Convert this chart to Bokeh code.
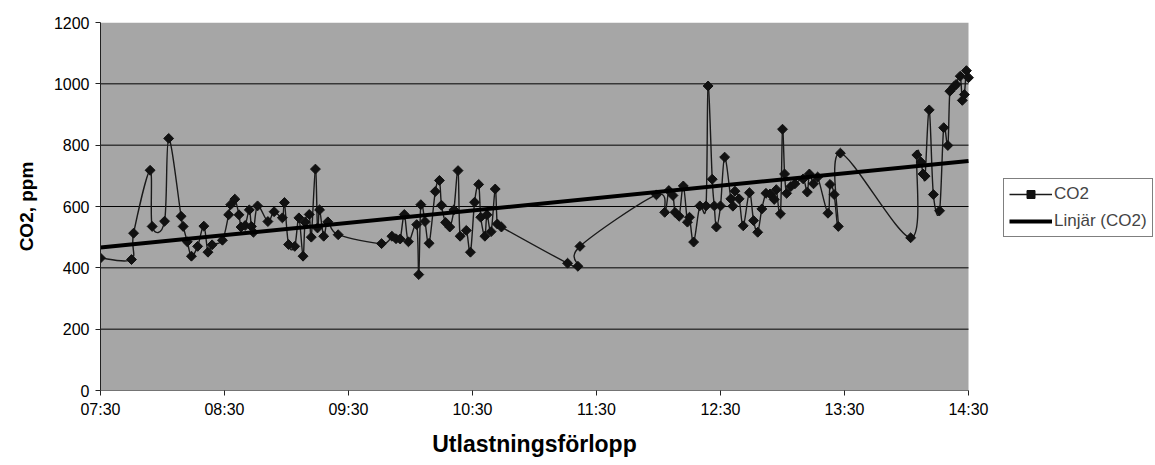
import numpy as np
from bokeh.plotting import figure
from bokeh.models import Range1d, FixedTicker, Legend, LegendItem, BoxAnnotation, Title
from bokeh.embed import file_html
from bokeh.resources import INLINE

# ---- data ----
times = [
    "07:30", "07:45", "07:46", "07:54", "07:55", "08:01", "08:03", "08:09", "08:10", "08:12",
    "08:14", "08:17", "08:20", "08:22", "08:24", "08:29", "08:32", "08:33", "08:35", "08:37",
    "08:38", "08:40", "08:42", "08:43", "08:44", "08:46", "08:51", "08:54", "08:58", "08:59",
    "09:01", "09:04", "09:06", "09:08", "09:09", "09:11", "09:12", "09:14", "09:15", "09:16",
    "09:18", "09:20", "09:25", "09:46", "09:51", "09:53", "09:55", "09:57", "09:59", "10:03",
    "10:04", "10:05", "10:07", "10:09", "10:12", "10:14", "10:15", "10:17", "10:19", "10:21",
    "10:23", "10:24", "10:27", "10:29", "10:31", "10:33", "10:34", "10:36", "10:37", "10:39",
    "10:41", "10:42", "10:44", "11:16", "11:21", "11:22", "11:59", "12:03", "12:05", "12:07",
    "12:08", "12:10", "12:12", "12:14", "12:15", "12:17", "12:20", "12:23", "12:24", "12:26",
    "12:27", "12:28", "12:30", "12:32", "12:35", "12:36", "12:37", "12:39", "12:41", "12:44",
    "12:46", "12:48", "12:50", "12:52", "12:54", "12:56", "12:57", "12:59", "13:00", "13:01",
    "13:02", "13:04", "13:06", "13:10", "13:12", "13:13", "13:15", "13:17", "13:22", "13:23",
    "13:25", "13:27", "13:28", "14:02", "14:05", "14:07", "14:08", "14:09", "14:11", "14:13",
    "14:16", "14:18", "14:20", "14:21", "14:23", "14:24", "14:26", "14:27", "14:28", "14:29",
    "14:30",
]
co2 = [
    432, 427, 513, 718, 535, 552, 822, 568, 535, 485,
    438, 470, 536, 451, 475, 490, 573, 606, 624, 573,
    533, 538, 589, 535, 516, 602, 551, 583, 563, 613,
    476, 470, 563, 438, 549, 574, 500, 722, 530, 589,
    503, 550, 508, 479, 503, 495, 494, 574, 485, 541,
    378, 606, 551, 480, 649, 685, 604, 548, 533, 589,
    717, 503, 522, 451, 614, 672, 565, 503, 573, 518,
    657, 543, 533, 415, 405, 470, 638, 581, 652, 636,
    581, 568, 667, 549, 565, 484, 602, 602, 993, 689,
    602, 533, 602, 761, 625, 601, 650, 625, 537, 645,
    554, 516, 592, 643, 641, 623, 655, 576, 852, 706,
    643, 665, 674, 690, 647, 706, 674, 696, 578, 672,
    639, 535, 774, 498, 768, 745, 706, 699, 915, 639,
    586, 857, 799, 976, 991, 998, 1025, 946, 965, 1043,
    1020,
]
x_tick_labels = ["07:30", "08:30", "09:30", "10:30", "11:30", "12:30", "13:30", "14:30"]
y_ticks = [0, 200, 400, 600, 800, 1000, 1200]
series_name = "CO2"
trend_name = "Linjär (CO2)"
x_title = "Utlastningsförlopp"
y_title = "CO2, ppm"


def to_min(t):
    h, m = t.split(":")
    return int(h) * 60 + int(m)


x = np.array([to_min(t) for t in times], dtype=float)
y = np.array(co2, dtype=float)
x_ticks = [to_min(t) for t in x_tick_labels]

# smoothed line (Catmull-Rom as cubic Bezier segments, like a spreadsheet "smoothed line")
qx = np.concatenate([[x[0]], x, [x[-1]]])
qy = np.concatenate([[y[0]], y, [y[-1]]])
n = len(x)
i = np.arange(n - 1)
cx0 = qx[i + 1] + (qx[i + 2] - qx[i]) / 6.0
cy0 = qy[i + 1] + (qy[i + 2] - qy[i]) / 6.0
cx1 = qx[i + 2] - (qx[i + 3] - qx[i + 1]) / 6.0
cy1 = qy[i + 2] - (qy[i + 3] - qy[i + 1]) / 6.0

# linear trend
k, b = np.polyfit(x, y, 1)
tx = np.array([x_ticks[0], x_ticks[-1]], dtype=float)
ty = k * tx + b

FONT = "Liberation Sans"
W, H = 1155, 465
LEFT, AREA_RIGHT = 100, 968          # plot-area pixel edges
X_TITLE_PX = 23
x_lo, x_hi = x_ticks[0], x_ticks[-1]
# the frame runs to the right canvas edge so that the legend can sit beside the grey area
x_view_hi = x_lo + (x_hi - x_lo) * (W - LEFT) / (AREA_RIGHT - LEFT)

p = figure(
    width=W, height=H,
    x_range=Range1d(x_lo, x_view_hi), y_range=Range1d(y_ticks[0], y_ticks[-1]),
    output_backend="svg", toolbar_location=None,
    min_border_left=LEFT, min_border_right=0, min_border_top=22, min_border_bottom=75,
)
p.background_fill_color = "white"
p.border_fill_color = "white"
p.outline_line_color = None
p.xgrid.visible = False
p.ygrid.visible = False

p.add_layout(BoxAnnotation(left=x_lo, right=x_hi, bottom=y_ticks[0], top=y_ticks[-1],
                           fill_color="#A6A6A6", fill_alpha=1, line_color=None,
                           level="underlay"))
# horizontal gridlines across the grey plot area (0 line doubles as the x axis line)
p.segment(x0=[x_lo] * (len(y_ticks) - 1), y0=y_ticks[:-1],
          x1=[x_hi] * (len(y_ticks) - 1), y1=y_ticks[:-1],
          line_color="black", line_width=1)

p.yaxis.ticker = FixedTicker(ticks=y_ticks)
p.xaxis.ticker = FixedTicker(ticks=x_ticks)
p.xaxis.major_label_overrides = {t: lab for t, lab in zip(x_ticks, x_tick_labels)}
for ax in (p.xaxis[0], p.yaxis[0]):
    ax.axis_line_color = "#222222"
    ax.major_tick_line_color = "#222222"
    ax.major_tick_in = 0
    ax.major_tick_out = 5
    ax.minor_tick_line_color = None
    ax.major_label_text_font = FONT
    ax.major_label_text_font_size = "16px"
    ax.major_label_text_color = "black"
    ax.axis_label_text_font = FONT
    ax.axis_label_text_font_style = "bold"
    ax.axis_label_text_color = "black"
p.xaxis.axis_line_color = None
p.xaxis.major_label_standoff = 5
p.yaxis.axis_label = y_title
p.yaxis.axis_label_text_font_size = "19px"
p.yaxis.major_label_standoff = 6
p.yaxis.axis_label_standoff = 14

# x-axis title, centred under the grey plot area (approx. text half-width subtracted)
approx_half = 0.5 * 8.89 * X_TITLE_PX
p.add_layout(Title(text=x_title, align="left",
                   offset=(LEFT + AREA_RIGHT) / 2 - approx_half - LEFT,
                   text_font=FONT, text_font_style="bold",
                   text_font_size=f"{X_TITLE_PX}px",
                   text_color="black", standoff=17), "below")

curve = p.bezier(x0=x[:-1], y0=y[:-1], x1=x[1:], y1=y[1:],
                 cx0=cx0, cy0=cy0, cx1=cx1, cy1=cy1,
                 line_color="#1a1a1a", line_width=1.4)
pts = p.scatter(x, y, marker="square", angle=np.pi / 4, size=7,
                fill_color="#111111", line_color="#111111")
trend = p.line(tx, ty, line_color="black", line_width=4)

legend = Legend(
    items=[LegendItem(label=series_name, renderers=[curve, pts]),
           LegendItem(label=trend_name, renderers=[trend])],
    location=(903, 153),
    border_line_color="black", border_line_width=1,
    background_fill_color="white", background_fill_alpha=1,
    label_text_font=FONT, label_text_font_size="17px",
    glyph_width=43, glyph_height=20, label_standoff=2,
    padding=5, spacing=7, margin=0,
)
p.add_layout(legend, "center")

open("out.html", "w").write(file_html(p, INLINE))
